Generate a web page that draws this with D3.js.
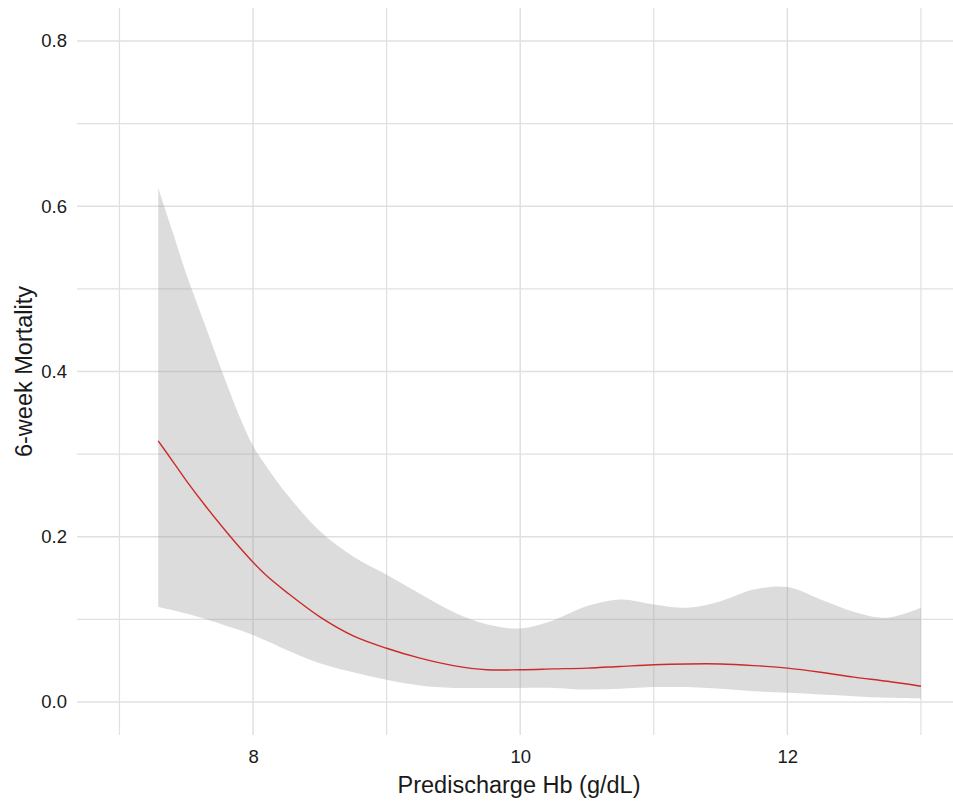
<!DOCTYPE html>
<html lang="en">
<head>
<meta charset="UTF-8">
<title>6-week Mortality vs Predischarge Hb</title>
<script src="https://d3js.org/d3.v7.min.js"></script>
<style>
body{ margin:0; background:#fff; }
svg{ display:block; }
text{ font-family: "Liberation Sans", Arial, sans-serif; fill:#1a1a1a; }
.grid line{ stroke:#e0e0e0; }
</style>
</head>
<body>
<svg id="chart" width="953" height="803"></svg>
<script>
// values
const hb = [7.29, 7.4, 7.5, 7.65, 7.8, 7.9, 8.0, 8.1, 8.25, 8.5, 8.75, 9.0, 9.25, 9.5, 9.75,
  10.0, 10.25, 10.5, 10.75, 11.0, 11.25, 11.5, 11.75, 12.0, 12.25, 12.5, 12.75, 13.0];
const fit = [0.316, 0.291, 0.268, 0.236, 0.206, 0.187, 0.169, 0.153, 0.133, 0.103, 0.080, 0.065, 0.053, 0.044, 0.039,
  0.039, 0.040, 0.041, 0.043, 0.045, 0.046, 0.046, 0.044, 0.041, 0.036, 0.030, 0.025, 0.019];
const upper = [0.622, 0.568, 0.518, 0.452, 0.386, 0.345, 0.310, 0.285, 0.252, 0.207, 0.176, 0.154, 0.131, 0.109, 0.094,
  0.089, 0.099, 0.116, 0.124, 0.118, 0.114, 0.122, 0.136, 0.139, 0.124, 0.109, 0.102, 0.114];
const lower = [0.115, 0.111, 0.107, 0.100, 0.092, 0.087, 0.081, 0.074, 0.063, 0.047, 0.036, 0.027, 0.020, 0.017, 0.017,
  0.017, 0.017, 0.015, 0.016, 0.018, 0.018, 0.016, 0.013, 0.011, 0.009, 0.007, 0.005, 0.004];
const xMajor = [8, 10, 12];
const xMinor = [7, 9, 11, 13];
const yMajor = [0, 0.2, 0.4, 0.6, 0.8];
const yMinor = [0.1, 0.3, 0.5, 0.7];

const rows = hb.map((h, i) => ({x: h, y: fit[i], lo: lower[i], hi: upper[i]}));

const svg = d3.select("#chart");
const pLeft = 77, pRight = 961, pTop = 8, pBottom = 735;

const x = d3.scaleLinear().domain([6.682, 13.3]).range([pLeft, pRight]);
const y = d3.scaleLinear().domain([-0.04, 0.84]).range([pBottom, pTop]);

// grid
const grid = svg.append("g").attr("class", "grid");
grid.selectAll(".hmin").data(yMinor).join("line").attr("class", "hmin")
  .attr("x1", pLeft).attr("x2", pRight)
  .attr("y1", d => y(d)).attr("y2", d => y(d))
  .attr("stroke-width", 1.2);
grid.selectAll(".hmaj").data(yMajor).join("line").attr("class", "hmaj")
  .attr("x1", pLeft).attr("x2", pRight)
  .attr("y1", d => y(d)).attr("y2", d => y(d))
  .attr("stroke-width", 1.5);
grid.selectAll(".vmin").data(xMinor).join("line").attr("class", "vmin")
  .attr("y1", pTop).attr("y2", pBottom)
  .attr("x1", d => x(d)).attr("x2", d => x(d))
  .attr("stroke-width", 1.2);
grid.selectAll(".vmaj").data(xMajor).join("line").attr("class", "vmaj")
  .attr("y1", pTop).attr("y2", pBottom)
  .attr("x1", d => x(d)).attr("x2", d => x(d))
  .attr("stroke-width", 1.5);

// confidence ribbon
const band = d3.area()
  .x(d => x(d.x)).y0(d => y(d.lo)).y1(d => y(d.hi))
  .curve(d3.curveCatmullRom.alpha(0.5));
svg.append("path").datum(rows)
  .attr("d", band)
  .attr("fill", "#999999")
  .attr("fill-opacity", 0.34);

// fitted line
const line = d3.line().x(d => x(d.x)).y(d => y(d.y)).curve(d3.curveCatmullRom.alpha(0.5));
svg.append("path").datum(rows)
  .attr("d", line)
  .attr("fill", "none")
  .attr("stroke", "#cc2a2a")
  .attr("stroke-width", 1.4);

// axes labels (no domain lines, no ticks)
const xAxis = svg.append("g").attr("transform", `translate(0,${pBottom})`)
  .call(d3.axisBottom(x).tickValues(xMajor).tickSize(0).tickPadding(0).tickFormat(d3.format("d")));
xAxis.select(".domain").remove();
xAxis.selectAll("text").attr("font-size", 18.5).attr("dy", null)
  .attr("y", 28).style("font-family", "Liberation Sans, Arial, sans-serif").attr("fill", "#1a1a1a");

const yAxis = svg.append("g").attr("transform", `translate(${pLeft},0)`)
  .call(d3.axisLeft(y).tickValues(yMajor).tickSize(0).tickPadding(10).tickFormat(d3.format(".1f")));
yAxis.select(".domain").remove();
yAxis.selectAll("text").attr("font-size", 18.5)
  .style("font-family", "Liberation Sans, Arial, sans-serif").attr("fill", "#1a1a1a");

svg.append("text")
  .attr("x", (pLeft + pRight) / 2).attr("y", 793)
  .attr("text-anchor", "middle").attr("font-size", 23.5)
  .text("Predischarge Hb (g/dL)");

svg.append("text")
  .attr("transform", `translate(32,${(pTop + pBottom) / 2}) rotate(-90)`)
  .attr("text-anchor", "middle").attr("font-size", 23.5)
  .text("6-week Mortality");
</script>
</body>
</html>
